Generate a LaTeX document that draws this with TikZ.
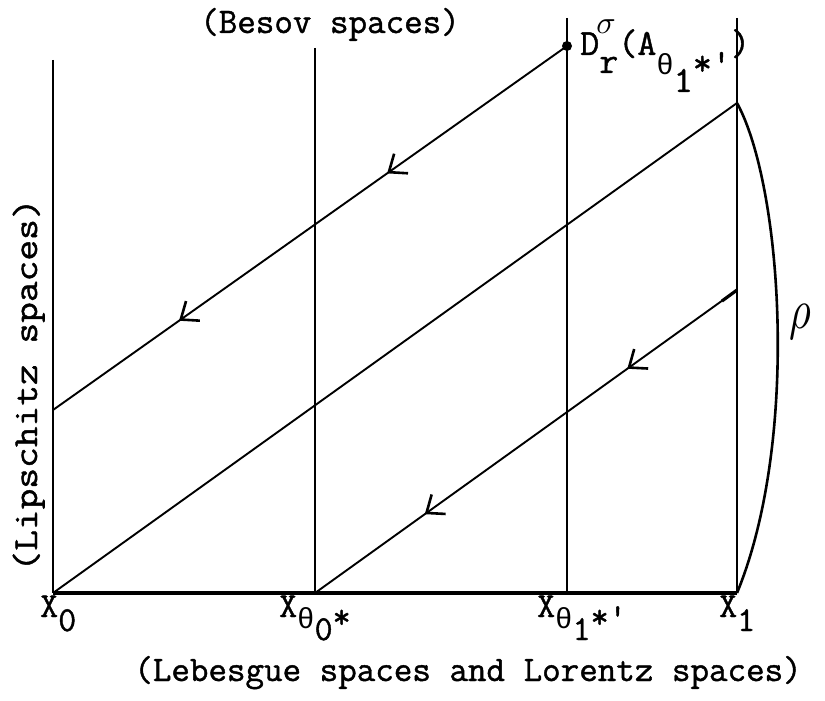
\documentclass[tikz,border=0pt]{standalone}
\usepackage{fontspec}
\newfontfamily\grk{Liberation Mono}
\newfontfamily\tw{Latin Modern Mono}[FakeBold=1.2]
\usetikzlibrary{decorations.markings,arrows.meta,calc}
\tikzset{
  lab/.style={font=\fontsize{35}{40}\selectfont\tw, inner sep=0pt},
  big/.style={font=\fontsize{36}{40}\selectfont\tw, inner sep=0pt},
  dlab/.style={font=\fontsize{37}{44}\selectfont\tw, inner sep=0pt},
  thinln/.style={line width=1.9pt},
  axisln/.style={line width=3.8pt},
  leftln/.style={line width=2.8pt},
  barbpair/.style 2 args={postaction={decorate},decoration={markings,
     mark=at position #1 with {\arrow{Straight Barb[length=15pt,width=24pt,line width=2.6pt]}},
     mark=at position #2 with {\arrow{Straight Barb[length=15pt,width=24pt,line width=2.6pt]}}}},
}
\newcommand{\thx}{{\fontsize{29}{30}\selectfont\grk θ}}
\begin{document}
\begin{tikzpicture}[x=1pt,y=-1pt]
\useasboundingbox (0,0) rectangle (825,701);
% points
\coordinate (O) at (53,593);
\coordinate (T0) at (315,593);
\coordinate (T1) at (567,593);
\coordinate (E) at (737,593);
\coordinate (Otop) at (53,60);
\coordinate (T0top) at (315,48);
\coordinate (T1top) at (567,18);
\coordinate (Etop) at (737,18);
\coordinate (La) at (53,410);
\coordinate (Eb) at (737,103);
\coordinate (Ec) at (737,290);
\coordinate (Ecs) at (722,301);
\node[circle,fill,inner sep=0pt,minimum size=10pt] (D) at (567,46) {};
% verticals
\draw[leftln] (Otop) -- (O);
\draw[thinln] (T0top) -- (T0);
\draw[thinln] (T1top) -- (T1);
\draw[thinln] (Etop) -- (E);
% axis
\draw[axisln] (O) -- (E);
% diagonals
\draw[thinln,barbpair={0.35}{0.755}] (D.center) -- (La);
\draw[thinln] (O) -- (Eb);
\draw[thinln,barbpair={0.26}{0.74}] (Ec) -- (T0);
\draw[line width=3.2pt] (Ec) -- (Ecs);
% rho curve
\draw[line width=2.6pt] (Eb) .. controls (782,185) and (800,440) .. (E);
\node[inner sep=0pt] (rho) at (800,322) {\scalebox{4.2}[5.6]{$\rho$}};
% labels
\node[big, anchor=base] (besov) at (330,33) {(Besov spaces)};
\node[lab, anchor=base, rotate=90] (lip) at (37,385) {\scalebox{1.15}[1]{(Lipschitz spaces)}};
\node[big, anchor=base] (leb) at (468,681) {(Lebesgue spaces and Lorentz spaces)};
\node[lab, anchor=base west] (x0) at (40,617) {X\raisebox{-14pt}{0}};
\node[lab, anchor=base west] (xt0) at (279,617) {X\raisebox{-11pt}{\thx\raisebox{-12pt}{0}*}};
\node[lab, anchor=base west] (xt1) at (537,617) {X\raisebox{-11pt}{\thx\raisebox{-12pt}{1}*'}};
\node[lab, anchor=base west] (x1) at (719,617) {X\raisebox{-14pt}{1}};
\node[dlab, anchor=base west] (dl) at (580,55) {D\raisebox{-18pt}{r}(A\raisebox{-20pt}{\thx\raisebox{-17pt}{1}*'})};
\node[inner sep=0pt] (sig) at (606,27) {\scalebox{3.2}{$\sigma$}};
\end{tikzpicture}
\end{document}
